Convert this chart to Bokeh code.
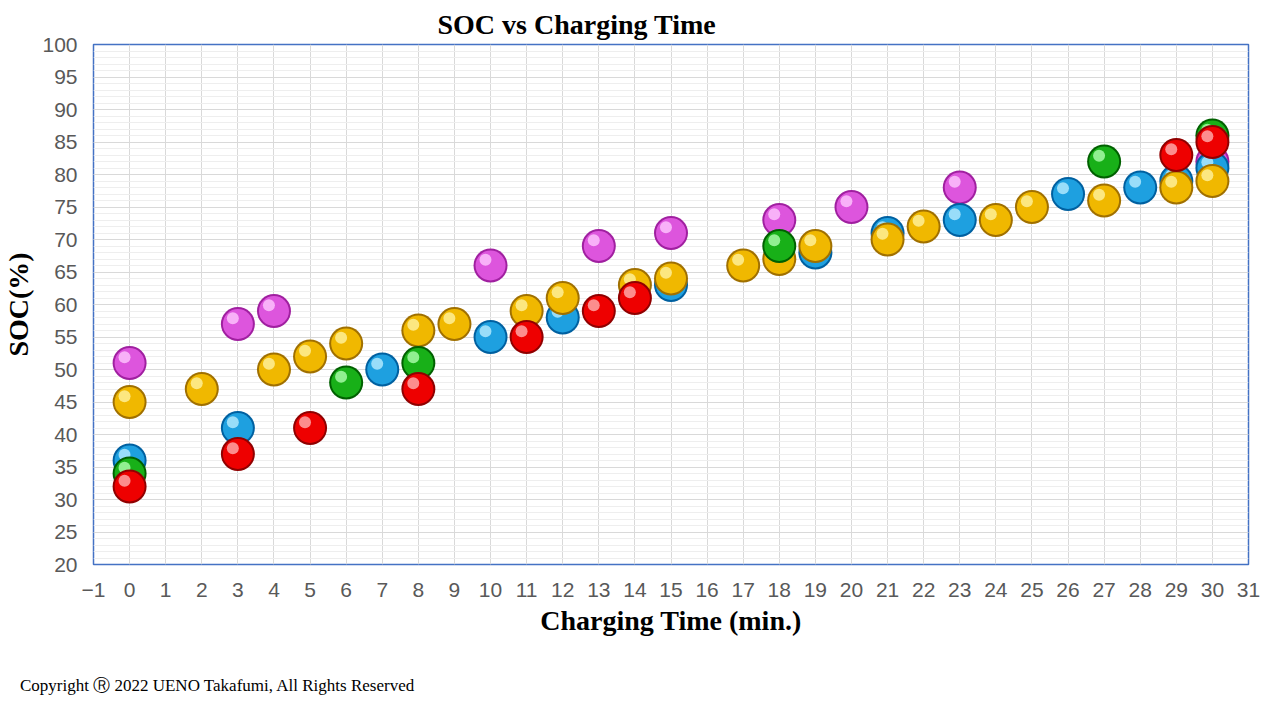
from bokeh.plotting import figure
from bokeh.models import Div, FixedTicker, ColumnDataSource
from bokeh.transform import dodge
from bokeh.layouts import column
from bokeh.embed import file_html
from bokeh.resources import INLINE

mag_x = [0, 3, 4, 10, 13, 15, 18, 20, 23, 30]
mag_y = [51, 57, 59, 66, 69, 71, 73, 75, 78, 82]
blu_x = [0, 3, 7, 10, 12, 15, 19, 21, 23, 26, 28, 29, 30]
blu_y = [36, 41, 50, 55, 58, 63, 68, 71, 73, 77, 78, 79, 81]
gold_x = [0, 2, 4, 5, 6, 8, 9, 11, 12, 14, 15, 17, 18, 19, 21, 22, 24, 25, 27, 29, 30]
gold_y = [45, 47, 50, 52, 54, 56, 57, 59, 61, 63, 64, 66, 67, 69, 70, 72, 73, 75, 76, 78, 79]
grn_x = [0, 6, 8, 18, 27, 30]
grn_y = [34, 48, 51, 69, 82, 86]
red_x = [0, 3, 5, 8, 11, 13, 14, 29, 30]
red_y = [32, 37, 41, 47, 55, 59, 61, 83, 85]

p = figure(width=1264, height=660, x_range=(-1, 31), y_range=(20, 100),
           output_backend="svg", toolbar_location=None,
           min_border_left=80, min_border_right=16, min_border_top=44, min_border_bottom=96,
           title="SOC vs Charging Time")
p.title.align = "left"
p.title.offset = 344
p.title.text_font = "Liberation Serif"
p.title.text_font_size = "28px"
p.title.text_font_style = "bold"
p.title.text_color = "black"

p.outline_line_color = "#4472C4"
p.outline_line_width = 1.5
p.xaxis.ticker = FixedTicker(ticks=list(range(-1, 32)))
p.yaxis.ticker = FixedTicker(ticks=list(range(20, 101, 5)), minor_ticks=list(range(20, 101)))
p.xgrid.grid_line_color = "#d9d9d9"
p.ygrid.grid_line_color = "#d9d9d9"
p.ygrid.minor_grid_line_color = "#eeeeee"
for ax in (p.xaxis, p.yaxis):
    ax.axis_line_color = None
    ax.major_tick_line_color = None
    ax.minor_tick_line_color = None
    ax.major_label_text_font = "Liberation Sans"
    ax.major_label_text_font_size = "21px"
    ax.major_label_text_color = "#595959"
    ax.axis_label_text_font = "Liberation Serif"
    ax.axis_label_text_font_size = "28px"
    ax.axis_label_text_font_style = "bold"
    ax.axis_label_text_color = "black"
p.xaxis.axis_label = "Charging Time (min.)"
p.yaxis.axis_label = "SOC(%)"
p.xaxis.major_label_standoff = 12
p.yaxis.major_label_standoff = 10

series = [
    (mag_x, mag_y, "#dd55dd", "#a020a0", "#ffc8ff"),
    (blu_x, blu_y, "#1ea0e0", "#0060a0", "#b8ecff"),
    (gold_x, gold_y, "#f0b800", "#a07000", "#fff2a0"),
    (grn_x, grn_y, "#18b018", "#006000", "#b0ffb0"),
    (red_x, red_y, "#ee0000", "#900000", "#ffb0b0"),
]
for xs, ys, c, dark, hi in series:
    src = ColumnDataSource(dict(x=xs, y=ys))
    p.scatter("x", "y", source=src, size=34, fill_color=dark, line_color=None)
    p.scatter("x", "y", source=src, size=30, fill_color=c, line_color=None)
    p.scatter(dodge("x", -0.14), dodge("y", 0.9), source=src, size=12,
              fill_color=hi, line_color=None, fill_alpha=0.8)

div = Div(text="Copyright &#9415; 2022 UENO Takafumi, All Rights Reserved",
          styles={"font-family": "Liberation Serif", "font-size": "17px", "color": "black",
                  "margin-left": "20px", "margin-top": "14px"})
open("out.html", "w").write(file_html(column(p, div), INLINE))
